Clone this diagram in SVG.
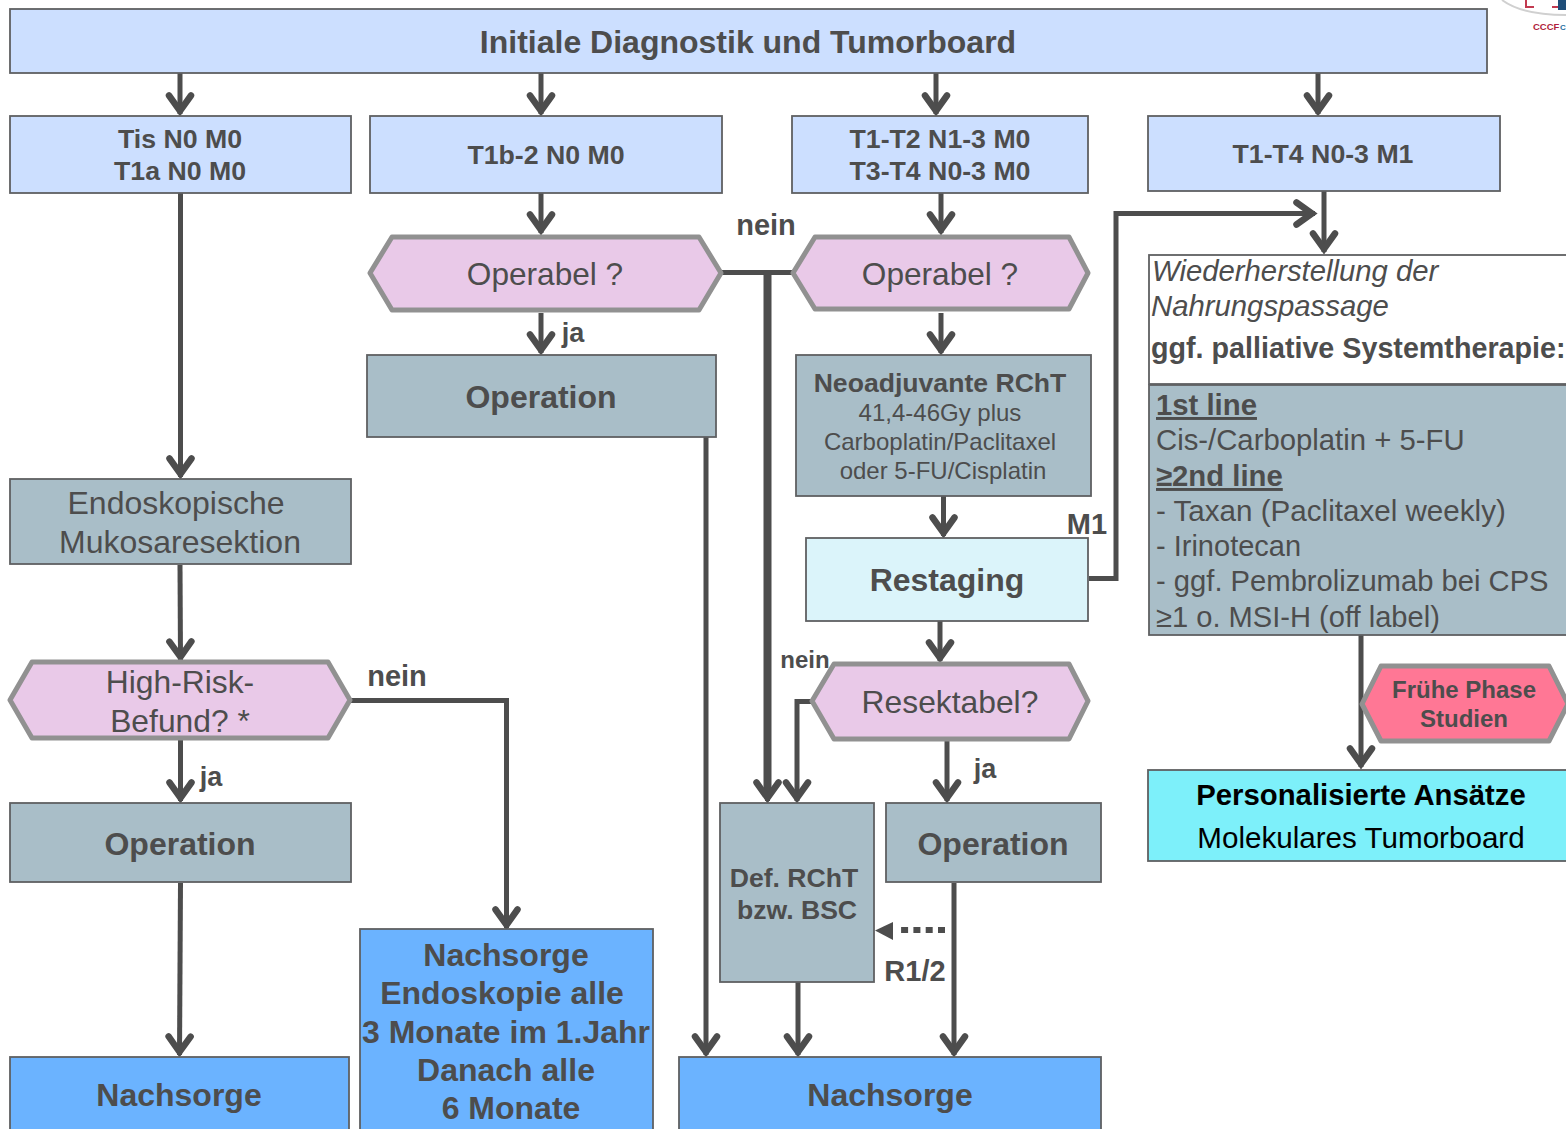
<svg xmlns="http://www.w3.org/2000/svg" width="1566" height="1129" viewBox="0 0 1566 1129">
<style>
text{font-family:"Liberation Sans",Arial,sans-serif;fill:#4d4d4d;text-anchor:middle}
.b{font-weight:bold}
.l{text-anchor:start}
.s{stroke:#5f6062;stroke-width:1.800}
.blue{fill:#ccdfff}.grey{fill:#a9bec8}.nach{fill:#6bb3ff}
.hex{fill:#e9c9e8;stroke:#919191;stroke-width:5;stroke-linejoin:round}
.c{fill:none;stroke:#4d4d4d;stroke-width:5}
</style>
<defs>
<marker id="a" markerUnits="userSpaceOnUse" markerWidth="32" markerHeight="32" refX="22" refY="16" orient="auto">
<path d="M3.500 5L19 16L3.500 27" fill="none" stroke="#4d4d4d" stroke-width="6.500" stroke-linecap="round" stroke-linejoin="miter"/>
</marker>
</defs>
<g id="connectors">
<path class="c" d="M180 73V114" marker-end="url(#a)"/>
<path class="c" d="M541 73V114" marker-end="url(#a)"/>
<path class="c" d="M936 73V114" marker-end="url(#a)"/>
<path class="c" d="M1318 73V114" marker-end="url(#a)"/>
<path class="c" d="M180.500 193V477" marker-end="url(#a)"/>
<path class="c" d="M541 193V233" marker-end="url(#a)"/>
<path class="c" d="M941 193V233" marker-end="url(#a)"/>
<path class="c" d="M1324 191V252" marker-end="url(#a)"/>
<path class="c" d="M541 313V353" marker-end="url(#a)"/>
<path class="c" d="M941 313V353" marker-end="url(#a)"/>
<path class="c" d="M943.500 496V536" marker-end="url(#a)"/>
<path class="c" d="M940 621V661" marker-end="url(#a)"/>
<path class="c" d="M947 740V801" marker-end="url(#a)"/>
<path class="c" d="M180 565L180.500 660" marker-end="url(#a)"/>
<path class="c" d="M180.500 740V801" marker-end="url(#a)"/>
<path class="c" d="M180.500 883L179.500 1055" marker-end="url(#a)"/>
<path class="c" d="M350 700.500H506.500V928" marker-end="url(#a)"/>
<path class="c" d="M722 272.500H792"/>
<path class="c" style="stroke-width:8" d="M767.500 272V792"/>
<path class="c" d="M767.500 785V801" marker-end="url(#a)"/>
<path class="c" d="M813 701.500H797V801" marker-end="url(#a)"/>
<path class="c" d="M706 437V1055" marker-end="url(#a)"/>
<path class="c" d="M798 982V1055" marker-end="url(#a)"/>
<path class="c" d="M954 883V1055" marker-end="url(#a)"/>
<path class="c" d="M1089 578.500H1116V213.500H1315" marker-end="url(#a)"/>
<path class="c" d="M1361 635V767" marker-end="url(#a)"/>
<path d="M945 930H901" fill="none" stroke="#4d4d4d" stroke-width="6" stroke-dasharray="7 5.300"/>
<path d="M875 930.500L893 922V940Z" fill="#4d4d4d"/>
</g>
<g id="logo">
<path d="M1502 0Q1522 15 1566 15" fill="none" stroke="#d0d0d0" stroke-width="2"/>
<path d="M1526 0V7H1534M1552 7H1558" fill="none" stroke="#c23a50" stroke-width="2"/>
<rect x="1558" y="0" width="8" height="10" fill="#1f4e79"/>
<text x="1533" y="30" class="b l" style="font-size:9.500px;fill:#b01e3c">CCCF</text>
<text x="1560" y="30" class="b l" style="font-size:8px;fill:#1f6f9f">C</text>
</g>
<g id="n-top"><rect x="10" y="9" width="1477" height="64" class="blue s"/><text x="748" y="53" class="b" font-size="32">Initiale Diagnostik und Tumorboard</text></g>
<g id="n-tis"><rect x="10" y="116" width="341" height="77" class="blue s"/><text x="180" y="148" class="b" font-size="26.700">Tis N0 M0</text><text x="180" y="180" class="b" font-size="26.700">T1a N0 M0</text></g>
<g id="n-t1b"><rect x="370" y="116" width="352" height="77" class="blue s"/><text x="546" y="164" class="b" font-size="26.700">T1b-2 N0 M0</text></g>
<g id="n-t1t2"><rect x="792" y="116" width="296" height="77" class="blue s"/><text x="940" y="148" class="b" font-size="26.700">T1-T2 N1-3 M0</text><text x="940" y="180" class="b" font-size="26.700">T3-T4 N0-3 M0</text></g>
<g id="n-m1"><rect x="1148" y="116" width="352" height="75" class="blue s"/><text x="1323" y="163" class="b" font-size="26.700">T1-T4 N0-3 M1</text></g>
<g id="n-op1"><path class="hex" d="M370 273L392 237H699L721 273L699 310H392Z"/><text x="545" y="285" font-size="31.600">Operabel ?</text></g>
<g id="n-op2"><path class="hex" d="M793 273L815 237H1069L1088 273L1069 309H815Z"/><text x="940" y="285" font-size="31.600">Operabel ?</text></g>
<g id="n-operation1"><rect x="367" y="355" width="349" height="82" class="grey s"/><text x="541" y="408" class="b" font-size="32">Operation</text></g>
<g id="n-neo"><rect x="796" y="355" width="295" height="141" class="grey s"/><text x="940" y="392" class="b" font-size="26.600">Neoadjuvante RChT</text><text x="940" y="421" font-size="24">41,4-46Gy plus</text><text x="940" y="450" font-size="24">Carboplatin/Paclitaxel</text><text x="943" y="479" font-size="24">oder 5-FU/Cisplatin</text></g>
<g id="n-restaging"><rect x="806" y="538" width="282" height="83" fill="#dbf4fa" class="s"/><text x="947" y="591" class="b" font-size="32">Restaging</text></g>
<g id="n-res"><path class="hex" d="M812 701L834 664H1069L1088 701L1069 739H834Z"/><text x="950" y="713" font-size="31.800">Resektabel?</text></g>
<g id="n-emr"><rect x="10" y="479" width="341" height="85" class="grey s"/><text x="176" y="514" font-size="32">Endoskopische</text><text x="180" y="553" font-size="32">Mukosaresektion</text></g>
<g id="n-hr"><path class="hex" d="M10 700L32 662H328L350 700L328 738H32Z"/><text x="180" y="693" font-size="31.800">High-Risk-</text><text x="180" y="732" font-size="31.800">Befund? *</text></g>
<g id="n-operation2"><rect x="10" y="803" width="341" height="79" class="grey s"/><text x="180" y="855" class="b" font-size="32">Operation</text></g>
<g id="n-nach1"><rect x="10" y="1057" width="339" height="80" class="nach s"/><text x="179" y="1106" class="b" font-size="32">Nachsorge</text></g>
<g id="n-nach2"><rect x="360" y="929" width="293" height="210" class="nach s"/><text x="506" y="966" class="b" font-size="32">Nachsorge</text><text x="502" y="1004" class="b" font-size="32">Endoskopie alle</text><text x="506" y="1043" class="b" font-size="32">3 Monate im 1.Jahr</text><text x="506" y="1081" class="b" font-size="32">Danach alle</text><text x="511" y="1119" class="b" font-size="32">6 Monate</text></g>
<g id="n-def"><rect x="720" y="803" width="154" height="179" class="grey s"/><text x="794" y="887" class="b" font-size="26.600">Def. RChT</text><text x="797" y="919" class="b" font-size="26.600">bzw. BSC</text></g>
<g id="n-operation3"><rect x="886" y="803" width="215" height="79" class="grey s"/><text x="993" y="855" class="b" font-size="32">Operation</text></g>
<g id="n-nach3"><rect x="679" y="1057" width="422" height="80" class="nach s"/><text x="890" y="1106" class="b" font-size="32">Nachsorge</text></g>
<g id="n-pall"><rect x="1149" y="255" width="430" height="129" fill="#fff" class="s"/><text x="1152" y="281" class="l" font-style="italic" font-size="29.300">Wiederherstellung der</text><text x="1151" y="316" class="l" font-style="italic" font-size="29.300">Nahrungspassage</text><text x="1151" y="358" class="l b" font-size="28.700">ggf. palliative Systemtherapie:</text></g>
<g id="n-lines"><rect x="1149" y="385" width="430" height="250" class="grey s"/><text x="1156" y="415" class="l b" font-size="29.300" text-decoration="underline">1st line</text><text x="1156" y="450" class="l" font-size="29.300">Cis-/Carboplatin + 5-FU</text><text x="1156" y="486" class="l b" font-size="29.300" text-decoration="underline">≥2nd line</text><text x="1156" y="521" class="l" font-size="29.600">- Taxan (Paclitaxel weekly)</text><text x="1156" y="556" class="l" font-size="29">- Irinotecan</text><text x="1156" y="591" class="l" font-size="29.200">- ggf. Pembrolizumab bei CPS</text><text x="1156" y="627" class="l" font-size="29.100">≥1 o. MSI-H (off label)</text></g>
<g id="n-fruehe"><path d="M1362 704L1381 666H1549L1568 704L1549 741H1381Z" fill="#ff7795" stroke="#919191" stroke-width="5" stroke-linejoin="round"/><text x="1464" y="698" class="b" font-size="24">Frühe Phase</text><text x="1464" y="727" class="b" font-size="24">Studien</text></g>
<g id="n-pers"><rect x="1148" y="770" width="430" height="91" fill="#7df0fa" class="s"/><text x="1361" y="805" class="b" style="fill:#000" font-size="29.300">Personalisierte Ansätze</text><text x="1361" y="848" style="fill:#000" font-size="29.600">Molekulares Tumorboard</text></g>
<g id="labels">
<text x="766" y="235" class="b" font-size="29">nein</text>
<text x="573" y="342" class="b" font-size="27">ja</text>
<text x="397" y="686" class="b" font-size="29">nein</text>
<text x="211" y="786" class="b" font-size="27">ja</text>
<text x="805" y="668" class="b" font-size="24">nein</text>
<text x="985" y="778" class="b" font-size="27">ja</text>
<text x="1087" y="534" class="b" font-size="29">M1</text>
<text x="915" y="981" class="b" font-size="29">R1/2</text>
</g>
</svg>
